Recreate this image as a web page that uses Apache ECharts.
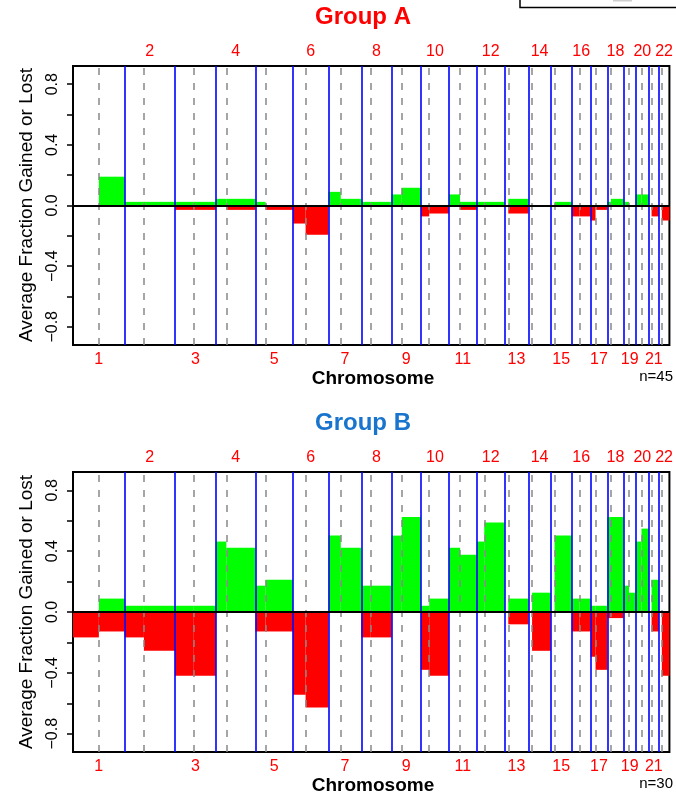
<!DOCTYPE html>
<html><head><meta charset="utf-8">
<script src="https://cdn.jsdelivr.net/npm/echarts@6/dist/echarts.min.js"></script>
<style>html,body{margin:0;padding:0;background:#fff}#c{width:676px;height:796px}</style>
</head><body><div id="c"></div>
<script>
// ---- data ----
const chromosomes = ['1','2','3','4','5','6','7','8','9','10','11','12','13','14','15','16','17','18','19','20','21','22'];
const chromLengthMb = [249.25,243.2,198.0,191.15,180.9,171.1,159.1,146.4,141.2,135.5,135.0,133.9,115.2,107.3,102.5,90.4,81.2,78.1,59.1,63.0,48.1,51.3];
const centromereMb  = [125.0,93.3,91.0,50.4,48.4,61.0,59.9,45.6,49.0,40.2,53.7,35.8,17.9,17.6,19.0,36.6,24.0,17.2,26.5,27.5,13.2,14.7];

// Group A (n=45): per-arm average fraction gained (p, q) and lost (p, q)
const gainP_A = [0,0.024,0.024,0.044,0.024,0,0.09,0.024,0.073,0,0.073,0.024,0,0,0,0,0,0.024,0.024,0.073,0,0];
const gainQ_A = [0.19,0.024,0.024,0.044,0,0,0.044,0.024,0.117,0,0.024,0.024,0.044,0,0.024,0,0,0.044,0,0.073,0,0];
const lossP_A = [0,0,-0.029,0,0,-0.119,0,0,0,-0.072,0,0,0,0,0,-0.072,-0.099,0,0,0,0,0];
const lossQ_A = [0,0,-0.029,-0.029,-0.029,-0.193,0,0,0,-0.053,-0.029,0,-0.053,0,0,-0.072,-0.029,0,0,0,-0.072,-0.099];

// Group B (n=30)
const gainP_B = [0,0.041,0.041,0.463,0.173,0,0.502,0.173,0.502,0.041,0.423,0.463,0,0,0,0.088,0.041,0.624,0.173,0.463,0,0];
const gainQ_B = [0.088,0.041,0.041,0.423,0.212,0,0.423,0.173,0.624,0.088,0.377,0.588,0.088,0.127,0.502,0.088,0.041,0.624,0.127,0.548,0.212,0];
const lossP_B = [-0.167,-0.167,-0.419,0,-0.128,-0.544,0,-0.167,0,-0.38,0,0,0,0,0,-0.128,-0.294,-0.04,0,0,0,0];
const lossQ_B = [-0.128,-0.255,-0.419,0,-0.128,-0.628,0,-0.167,0,-0.419,0,0,-0.081,-0.255,0,-0.128,-0.38,-0.04,0,0,-0.128,-0.419];

const yTickValues  = [-0.8,-0.6,-0.4,-0.2,0,0.2,0.4,0.6,0.8];
const yLabelValues = [-0.8,-0.4,0,0.4,0.8];

// ---- derived positions ----
const starts = [];
let acc = 0;
chromLengthMb.forEach(l => { starts.push(acc); acc += l; });
const totalMb = acc;
const mids = chromLengthMb.map((l, i) => starts[i] + l / 2);
const oddMids = mids.filter((m, i) => i % 2 === 0);
const evenMids = mids.filter((m, i) => i % 2 === 1);
const cenPos = centromereMb.map((c, i) => starts[i] + c);
const ends = chromLengthMb.map((l, i) => starts[i] + l);

function segs(gp, gq, lp, lq) {
  const out = [];
  for (let i = 0; i < chromosomes.length; i++) {
    const s = starts[i], c = cenPos[i], e = ends[i];
    [[s, c, gp[i]], [c, e, gq[i]], [s, c, lp[i]], [c, e, lq[i]]].forEach(d => { if (d[2] !== 0) out.push(d); });
  }
  return out;
}

const FONT = '"Liberation Sans", Arial, Helvetica, sans-serif';
const GREEN = '#00ff00', RED = '#ff0000';

function renderBar(params, api) {
  const x0 = api.value(0), x1 = api.value(1), v = api.value(2);
  const a = api.coord([x0, v]);
  const b = api.coord([x1, 0]);
  return {
    type: 'rect',
    shape: { x: a[0], y: Math.min(a[1], b[1]), width: b[0] - a[0], height: Math.abs(b[1] - a[1]) },
    style: { fill: v > 0 ? GREEN : RED }
  };
}

function chromLabel(v) {
  let best = 0, bd = Infinity;
  mids.forEach((m, i) => { const d = Math.abs(m - v); if (d < bd) { bd = d; best = i; } });
  return chromosomes[best];
}
function yFmt(v) {
  const r = Math.round(v * 10) / 10;
  return (r < 0 ? '\u2212' : '') + Math.abs(r).toFixed(1);
}

function markLines() {
  const data = [];
  cenPos.forEach(p => data.push({ xAxis: p, lineStyle: { color: '#888888', width: 1.5, type: [7, 8] } }));
  ends.forEach(p => data.push({ xAxis: p, lineStyle: { color: '#0000ff', width: 1.6, type: 'solid' } }));
  data.push({ yAxis: 0, lineStyle: { color: '#000000', width: 2, type: 'solid' } });
  return { silent: true, symbol: ['none', 'none'], label: { show: false }, animation: false, emphasis: { disabled: true }, data };
}

const grids = [
  { left: 73, right: 3, top: 66, height: 279, show: true, borderColor: '#000', borderWidth: 2, backgroundColor: 'transparent' },
  { left: 73, right: 3, top: 472, height: 280, show: true, borderColor: '#000', borderWidth: 2, backgroundColor: 'transparent' }
];

function xAxisPair(g) {
  const base = { gridIndex: g, type: 'value', min: 0, max: totalMb, axisLine: { show: false }, axisTick: { show: false }, splitLine: { show: false } };
  return [
    Object.assign({}, base, { position: 'bottom', axisLabel: { customValues: oddMids, formatter: chromLabel, color: RED, fontSize: 16, fontFamily: FONT, margin: 7, hideOverlap: false } }),
    Object.assign({}, base, { position: 'top', axisLabel: { customValues: evenMids, formatter: chromLabel, color: RED, fontSize: 16, fontFamily: FONT, margin: 6, hideOverlap: false } })
  ];
}
function yAxis(g) {
  return {
    gridIndex: g, type: 'value', min: -0.92, max: 0.92,
    axisLine: { show: false }, splitLine: { show: false },
    axisTick: { show: true, length: 6, lineStyle: { color: '#000', width: 1.5 }, customValues: yTickValues },
    axisLabel: { customValues: yLabelValues, rotate: 90, align: 'center', verticalAlign: 'bottom', margin: 12, fontSize: 16, color: '#000', fontFamily: FONT, formatter: yFmt }
  };
}

const chart = echarts.init(document.getElementById('c'), null, { renderer: 'canvas' });
chart.setOption({
  animation: false,
  backgroundColor: '#ffffff',
  grid: grids,
  xAxis: [...xAxisPair(0), ...xAxisPair(1)],
  yAxis: [yAxis(0), yAxis(1)],
  series: [
    { type: 'custom', name: 'Group A', xAxisIndex: 0, yAxisIndex: 0, renderItem: renderBar, encode: { x: [0, 1], y: 2 }, data: segs(gainP_A, gainQ_A, lossP_A, lossQ_A), markLine: markLines(), clip: true },
    { type: 'custom', name: 'Group B', xAxisIndex: 2, yAxisIndex: 1, renderItem: renderBar, encode: { x: [0, 1], y: 2 }, data: segs(gainP_B, gainQ_B, lossP_B, lossQ_B), markLine: markLines(), clip: true }
  ],
  graphic: [
    { type: 'rect', shape: { x: 520, y: -20, width: 170, height: 27.5 }, style: { fill: '#fff', stroke: '#000', lineWidth: 1.5 } },
    { type: 'rect', shape: { x: 613, y: -5, width: 19, height: 6.5 }, style: { fill: '#cfcfcf' } },
    { type: 'text', x: 363, y: 17, style: { text: 'Group A', fill: '#ff0000', font: 'bold 24px ' + FONT, textAlign: 'center', textVerticalAlign: 'middle' } },
    { type: 'text', x: 363, y: 423, style: { text: 'Group B', fill: '#1874cd', font: 'bold 24px ' + FONT, textAlign: 'center', textVerticalAlign: 'middle' } },
    { type: 'text', x: 373, y: 379, style: { text: 'Chromosome', fill: '#000', font: 'bold 19px ' + FONT, textAlign: 'center', textVerticalAlign: 'middle' } },
    { type: 'text', x: 373, y: 786, style: { text: 'Chromosome', fill: '#000', font: 'bold 19px ' + FONT, textAlign: 'center', textVerticalAlign: 'middle' } },
    { type: 'text', x: 673, y: 377, style: { text: 'n=45', fill: '#000', font: '15px ' + FONT, textAlign: 'right', textVerticalAlign: 'middle' } },
    { type: 'text', x: 673, y: 784, style: { text: 'n=30', fill: '#000', font: '15px ' + FONT, textAlign: 'right', textVerticalAlign: 'middle' } },
    { type: 'text', x: 27, y: 205, rotation: Math.PI / 2, style: { text: 'Average Fraction Gained or Lost', fill: '#000', font: '19px ' + FONT, textAlign: 'center', textVerticalAlign: 'middle' } },
    { type: 'text', x: 27, y: 612, rotation: Math.PI / 2, style: { text: 'Average Fraction Gained or Lost', fill: '#000', font: '19px ' + FONT, textAlign: 'center', textVerticalAlign: 'middle' } }
  ]
});
</script>
</body></html>
